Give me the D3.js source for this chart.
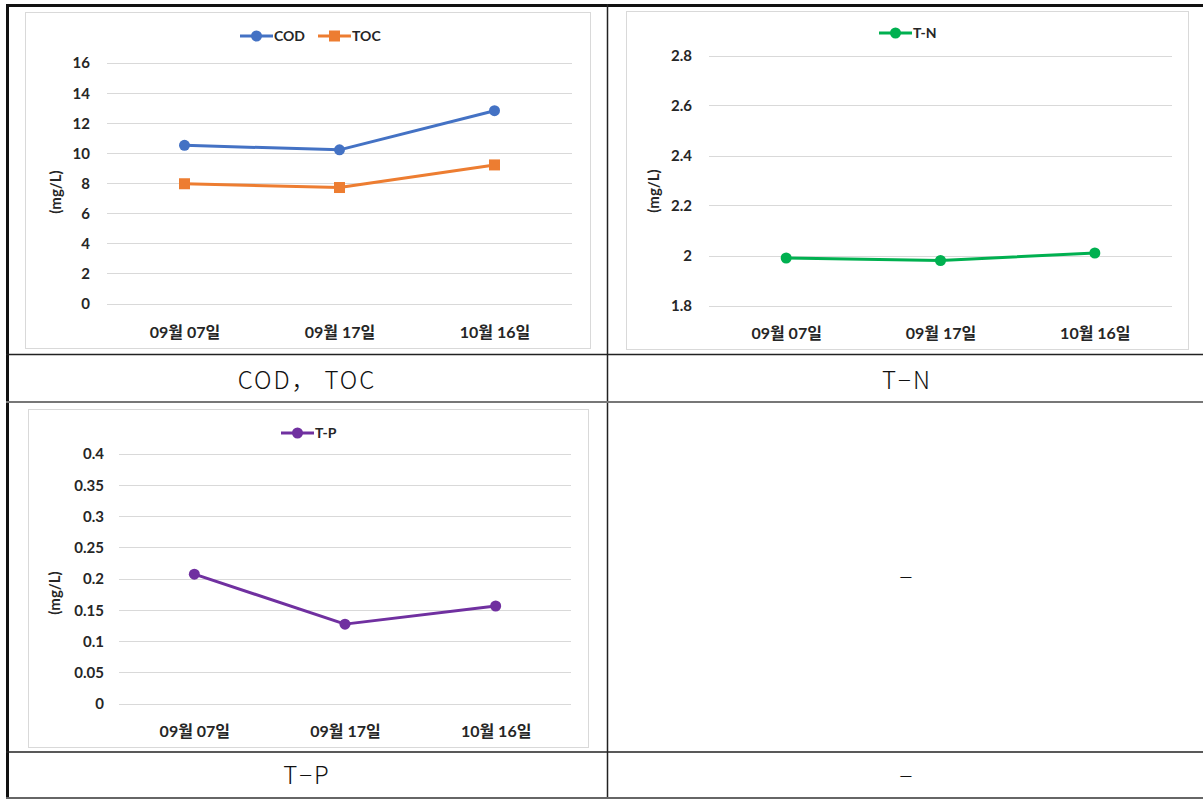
<!DOCTYPE html>
<html lang="ko">
<head>
<meta charset="utf-8">
<script src="https://cdn.jsdelivr.net/npm/d3@7"></script>
<style>
  html, body { margin: 0; padding: 0; background: #fff; }
  svg { display: block; }
  .tick text { font-family: Lato, "Noto Sans CJK KR", sans-serif; font-weight: 700; fill: #262626; }
  .y-ticks .tick text { font-size: 15px; }
  .x-ticks .tick text { font-size: 16px; }
  .caption { font-family: "Noto Sans CJK KR", "Noto Sans", sans-serif; font-size: 24px; font-weight: 300; fill: #111; }
</style>
</head>
<body>
<svg id="page" width="1203" height="799"></svg>
<script>
// Sampling dates
const dates = ["09월 07일", "09월 17일", "10월 16일"];

// Measured concentrations (mg/L)
const codValues = [10.5, 10.2, 12.8];
const tocValues = [7.95, 7.7, 9.2];
const tnValues = [1.99, 1.98, 2.01];
const tpValues = [0.207, 0.127, 0.156];

// Axis tick values
const codTocTicks = [0, 2, 4, 6, 8, 10, 12, 14, 16];
const tnTicks = [1.8, 2, 2.2, 2.4, 2.6, 2.8];
const tpTicks = [0, 0.05, 0.1, 0.15, 0.2, 0.25, 0.3, 0.35, 0.4];

// Cell captions
const captions = ["COD\uFF0C\u2009TOC", "T\u2212N", "T\u2212P", "\u2212", "\u2212"];

const svg = d3.select("#page");

// ---- table grid ----
const grid = svg.append("g");
function hline(y, w, color, x1 = 6, x2 = 1203) {
  grid.append("line").attr("x1", x1).attr("x2", x2).attr("y1", y).attr("y2", y)
    .attr("stroke", color).attr("stroke-width", w);
}
function vline(x, w, color, y1 = 4, y2 = 799) {
  grid.append("line").attr("x1", x).attr("x2", x).attr("y1", y1).attr("y2", y2)
    .attr("stroke", color).attr("stroke-width", w);
}

// ---- chart panels ----
function drawChart(cfg) {
  const g = svg.append("g");
  // chart frame
  g.append("rect")
    .attr("x", cfg.frame[0] + 0.5).attr("y", cfg.frame[1] + 0.5)
    .attr("width", cfg.frame[2] - cfg.frame[0]).attr("height", cfg.frame[3] - cfg.frame[1])
    .attr("fill", "#fff").attr("stroke", "#d9d9d9").attr("stroke-width", 1);

  const x = d3.scalePoint().domain(dates).range(cfg.xRange).padding(0.5);
  const y = d3.scaleLinear().domain(cfg.domain).range(cfg.yRange);

  // horizontal gridlines
  g.append("g").selectAll("line").data(cfg.ticks).join("line")
    .attr("x1", cfg.xRange[0]).attr("x2", cfg.xRange[1])
    .attr("y1", d => Math.round(y(d)) + 0.5).attr("y2", d => Math.round(y(d)) + 0.5)
    .attr("stroke", "#d9d9d9").attr("stroke-width", 1);

  // y axis labels
  const yAxis = g.append("g").attr("class", "y-ticks")
    .attr("transform", `translate(${cfg.yLabelX},0)`)
    .call(d3.axisLeft(y).tickValues(cfg.ticks).tickSize(0).tickPadding(0).tickFormat(d3.format("~g")));
  yAxis.select(".domain").remove();
  yAxis.selectAll("text").attr("dy", "0.36em");

  // x axis labels
  const xAxis = g.append("g").attr("class", "x-ticks")
    .attr("transform", `translate(0,${cfg.xLabelY})`)
    .call(d3.axisBottom(x).tickSize(0).tickPadding(0));
  xAxis.select(".domain").remove();
  xAxis.selectAll("text").attr("dy", "0.36em").attr("y", 0);

  // y axis title
  g.append("text")
    .attr("transform", `translate(${cfg.titlePos[0]},${cfg.titlePos[1]}) rotate(-90)`)
    .attr("text-anchor", "middle").attr("dy", "0.36em")
    .style("font-family", "Lato, 'Noto Sans', sans-serif").style("font-weight", 700)
    .style("font-size", "15px").attr("fill", "#262626")
    .text("(mg/L)");

  const line = d3.line().x((d, i) => x(dates[i])).y(d => y(d));

  cfg.series.forEach(s => {
    g.append("path").datum(s.values)
      .attr("d", line).attr("fill", "none")
      .attr("stroke", s.color).attr("stroke-width", 3).attr("stroke-linejoin", "round");
    drawMarkers(g, s, s.values.map((v, i) => [x(dates[i]), y(v)]));

    // legend entry
    const lg = g.append("g");
    lg.append("line")
      .attr("x1", s.legend[0]).attr("x2", s.legend[0] + 33)
      .attr("y1", cfg.legendY).attr("y2", cfg.legendY)
      .attr("stroke", s.color).attr("stroke-width", 3);
    drawMarkers(lg, s, [[s.legend[0] + 16.5, cfg.legendY]]);
    lg.append("text")
      .attr("x", s.legend[0] + 34).attr("y", cfg.legendY).attr("dy", "0.36em")
      .style("font-family", "Lato, 'Noto Sans', sans-serif").style("font-weight", 700)
      .style("font-size", "14px").attr("fill", "#262626")
      .text(s.name);
  });
}

function drawMarkers(g, s, pts) {
  if (s.shape === "square") {
    g.selectAll(null).data(pts).join("rect")
      .attr("x", d => d[0] - 5.5).attr("y", d => d[1] - 5.5)
      .attr("width", 11).attr("height", 11).attr("fill", s.color);
  } else {
    g.selectAll(null).data(pts).join("circle")
      .attr("cx", d => d[0]).attr("cy", d => d[1]).attr("r", 5.5).attr("fill", s.color);
  }
}

drawChart({
  frame: [25, 12, 590, 348],
  xRange: [107, 572],
  domain: [0, 16], yRange: [303.5, 62.5],
  ticks: codTocTicks,
  yLabelX: 90, xLabelY: 332, titlePos: [56, 192],
  legendY: 36,
  series: [
    { name: "COD", values: codValues, color: "#4472c4", shape: "circle", legend: [240] },
    { name: "TOC", values: tocValues, color: "#ed7d31", shape: "square", legend: [318] }
  ]
});

drawChart({
  frame: [626, 11, 1188, 349],
  xRange: [709, 1172],
  domain: [1.8, 2.8], yRange: [305.5, 55.5],
  ticks: tnTicks,
  yLabelX: 692, xLabelY: 333, titlePos: [654, 191],
  legendY: 33,
  series: [
    { name: "T-N", values: tnValues, color: "#00b050", shape: "circle", legend: [879] }
  ]
});

drawChart({
  frame: [28, 409, 588, 747],
  xRange: [119, 571],
  domain: [0, 0.4], yRange: [703.5, 453.5],
  ticks: tpTicks,
  yLabelX: 104, xLabelY: 731, titlePos: [55, 593],
  legendY: 433,
  series: [
    { name: "T-P", values: tpValues, color: "#7030a0", shape: "circle", legend: [281] }
  ]
});

// ---- captions ----
const capPos = [[307, 380], [907, 380], [307, 775], [907, 577], [907, 776]];
svg.append("g").selectAll("text").data(captions).join("text")
  .attr("class", "caption")
  .attr("x", (d, i) => capPos[i][0]).attr("y", (d, i) => capPos[i][1])
  .attr("text-anchor", "middle").attr("dy", "0.36em")
  .style("letter-spacing", "2px")
  .text(d => d);

// grid lines drawn over the cells
grid.raise();
hline(5.5, 3, "#111");
vline(7.5, 3, "#111");
vline(607.5, 1.5, "#222");
hline(354.5, 1.5, "#222");
hline(402, 2, "#777");
hline(752, 1.5, "#222");
hline(798, 2, "#666");
</script>
</body>
</html>
